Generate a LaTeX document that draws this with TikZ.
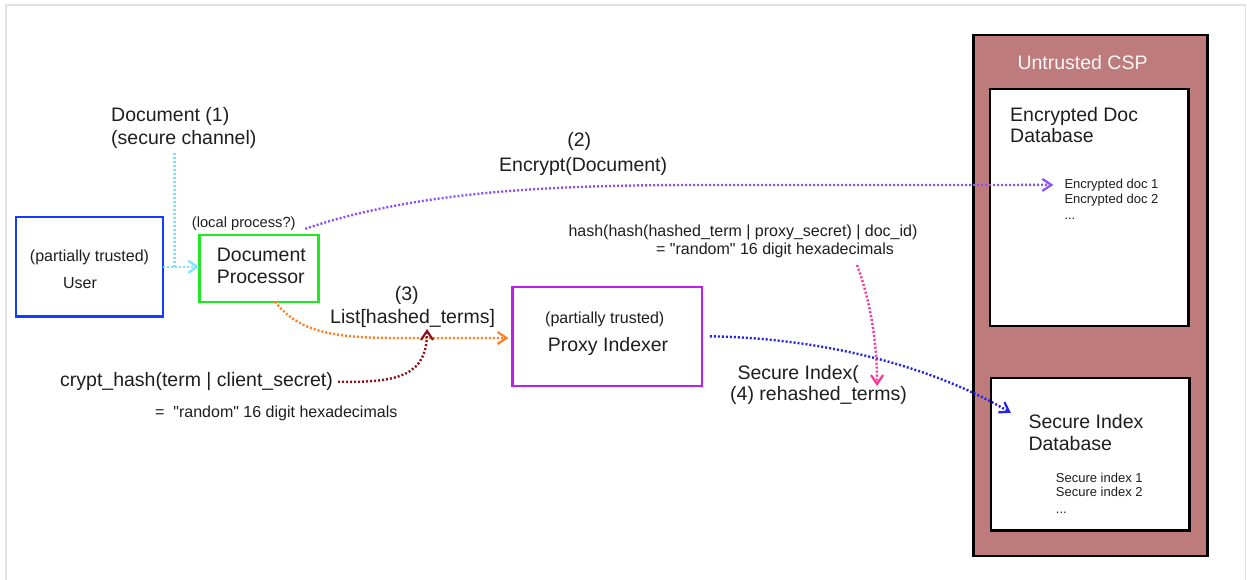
\documentclass[tikz,border=0pt]{standalone}
\usepackage{fontspec}
\setmainfont{Liberation Sans}
\usetikzlibrary{arrows.meta}

\definecolor{inkcol}{RGB}{30,30,30}
\definecolor{framegray}{RGB}{226,226,226}
\definecolor{userblue}{RGB}{20,60,255}
\definecolor{procgreen}{RGB}{34,232,34}
\definecolor{proxypurple}{RGB}{190,30,235}
\definecolor{cspfill}{RGB}{190,123,123}
\definecolor{cyanline}{RGB}{120,228,255}
\definecolor{violetline}{RGB}{138,80,255}
\definecolor{orangeline}{RGB}{255,127,39}
\definecolor{darkredline}{RGB}{136,20,30}
\definecolor{blueline}{RGB}{35,35,235}
\definecolor{pinkline}{RGB}{255,50,150}

\newcommand\fbig{\fontsize{19.5}{23}\selectfont}
\newcommand\fmid{\fontsize{16}{19}\selectfont}
\newcommand\fsml{\fontsize{14.7}{17}\selectfont}
\newcommand\ftny{\fontsize{13}{15}\selectfont}
\newcommand\qq{\textquotedbl}

\tikzset{
  box/.style={draw, line width=2.6pt, inner sep=0pt, outer sep=0pt},
  lbl/.style={inner sep=0pt, anchor=base west, text=inkcol},
  lblc/.style={inner sep=0pt, anchor=base, text=inkcol},
  flow/.style={line width=2.4pt, dash pattern=on 2pt off 2pt,
    -{Straight Barb[length=9pt,width=12pt,line width=2.2pt]}},
  plain/.style={line width=2.4pt, dash pattern=on 2pt off 2pt},
}

\begin{document}
\begin{tikzpicture}[x=1pt,y=-1pt]
\useasboundingbox (0,0) rectangle (1247,579);
\clip (0,0) rectangle (1247,579);
\fill[white] (0,0) rectangle (1247,579);
\draw[framegray, line width=1.5pt] (6,5) rectangle (1245.5,600);

% boxes
\node[box, draw=userblue, minimum width=147.2pt, minimum height=99.5pt] (user) at (89.4,266.75) {};
\node[box, draw=procgreen, minimum width=119pt, minimum height=67pt] (proc) at (258.7,268.3) {};
\node[box, draw=proxypurple, minimum width=189.3pt, minimum height=99pt] (proxy) at (607.15,336.3) {};
\node[box, draw=black, fill=cspfill, minimum width=234pt, minimum height=521pt] (csp) at (1090.5,295.3) {};
\node[box, draw=black, fill=white, minimum width=198.7pt, minimum height=236.8pt] (encdb) at (1089.15,207.4) {};
\node[box, draw=black, fill=white, minimum width=198.4pt, minimum height=152.4pt] (secdb) at (1090,454) {};

% labels
\node[lbl, font=\fbig] (docA) at (111,121.5) {Document (1)};
\node[lbl, font=\fbig] (docB) at (111,144) {(secure channel)};
\node[lblc, font=\fmid] (userA) at (89.5,261) {(partially trusted)};
\node[lblc, font=\fmid] (userB) at (80,288) {User};
\node[lbl, font=\fsml] (local) at (191.7,227.7) {(local process?)};
\node[lbl, font=\fbig] (procA) at (216.7,261) {Document};
\node[lbl, font=\fbig] (procB) at (216.7,283.3) {Processor};
\node[lblc, font=\fbig] (encA) at (579.3,146.7) {(2)};
\node[lbl, font=\fbig] (encB) at (499,171.7) {Encrypt(Document)};
\node[lblc, font=\fbig] (listA) at (406.7,300) {(3)};
\node[lbl, font=\fbig] (listB) at (330,323.3) {List[hashed\_terms]};
\node[lbl, font=\fbig] (crypt) at (60,386.7) {crypt\_hash(term | client\_secret)};
\node[lbl, font=\fmid] (randA) at (155,417.7) {=\ \ \qq random\qq{} 16 digit hexadecimals};
\node[lbl, font=\fmid] (hashA) at (568.3,236.7) {hash(hash(hashed\_term | proxy\_secret) | doc\_id)};
\node[lbl, font=\fmid] (hashB) at (656,254.3) {= \qq random\qq{} 16 digit hexadecimals};
\node[lbl, font=\fmid] (proxyA) at (545,323.3) {(partially trusted)};
\node[lbl, font=\fbig] (proxyB) at (547.7,351.7) {Proxy Indexer};
\node[lbl, font=\fbig] (siA) at (737.3,379.3) {Secure Index(};
\node[lbl, font=\fbig] (siB) at (730,400.7) {(4) rehashed\_terms)};
\node[lbl, font=\fbig, text=white!94!cspfill] (cspT) at (1017.3,69) {Untrusted CSP};
\node[lbl, font=\fbig] (encdbA) at (1010,121) {Encrypted Doc};
\node[lbl, font=\fbig] (encdbB) at (1010,142.7) {Database};
\node[lbl, font=\ftny] (ed1) at (1064.3,188.3) {Encrypted doc 1};
\node[lbl, font=\ftny] (ed2) at (1064.3,203.3) {Encrypted doc 2};
\node[lbl, font=\ftny] (ed3) at (1064.3,219.3) {...};
\node[lbl, font=\fbig] (secdbA) at (1028.3,428.3) {Secure Index};
\node[lbl, font=\fbig] (secdbB) at (1028.3,450.7) {Database};
\node[lbl, font=\ftny] (si1) at (1055.7,482.3) {Secure index 1};
\node[lbl, font=\ftny] (si2) at (1055.7,496.7) {Secure index 2};
\node[lbl, font=\ftny] (si3) at (1055.7,513.3) {...};

% free ends of connectors
\coordinate (chtop) at (174.3,153);
\coordinate (merge) at (427,329);
\coordinate (pinkstart) at (857,265);
\coordinate (pinkend) at (877,386);

% (1) secure channel: user -> document processor
\draw[plain, cyanline] (chtop) -- (chtop |- user.east);
\draw[flow, cyanline] (user.east) -- (user.east -| proc.west);

% (2) encrypted document to the document database
\draw[flow, violetline] ([shift={(-13pt,6pt)}]proc.north east)
  .. controls (420,190) and (560,185) .. (700,185) -- ([xshift=-11pt]ed1.west);

% (3) list of hashed terms to the proxy indexer
\draw[flow, orangeline] ([xshift=16.3pt]proc.south)
  .. controls (300,333) and (335,338) .. (400,338) -- ([shift={(-4pt,-1.7pt)}]proxy.west);
\draw[flow, darkredline] ([xshift=5pt]crypt.east)
  .. controls (400,383) and (427,375) .. (merge);

% (4) secure index to the index database
\draw[flow, blueline] ([xshift=8pt]proxy.east)
  .. controls (820,338) and (930,365) .. ([shift={(20pt,-35pt)}]secdb.north west);
\draw[flow, pinkline] (pinkstart) .. controls (870,300) and (877,340) .. (pinkend);
\end{tikzpicture}
\end{document}
